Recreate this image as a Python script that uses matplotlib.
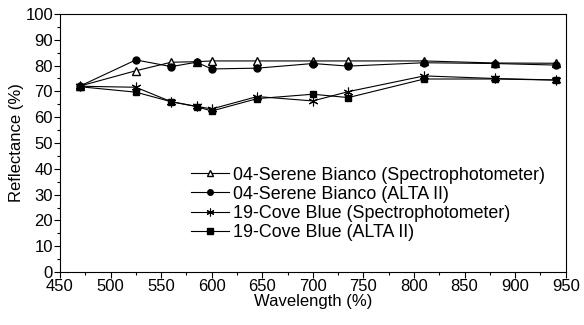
import numpy as np
import matplotlib.pyplot as plt
from matplotlib.ticker import MultipleLocator

plt.rcParams['font.family'] = ['Liberation Sans', 'DejaVu Sans']

# wavelengths (nm) of measurement points
wavelength = [470, 525, 560, 585, 600, 645, 700, 735, 810, 880, 940]

# reflectance values
serene_spectro = [72.1, 78.0, 81.3, 81.5, 81.8, 81.8, 81.8, 81.8, 81.8, 81.0, 80.9]
serene_alta = [72.1, 82.2, 79.6, 81.3, 78.7, 79.0, 80.8, 79.8, 81.1, 80.8, 80.2]
cove_spectro = [72.0, 71.6, 66.0, 64.2, 63.2, 68.0, 66.3, 69.9, 76.0, 75.0, 74.4]
cove_alta = [71.8, 69.7, 66.0, 64.1, 62.4, 67.2, 68.9, 67.6, 74.8, 74.8, 74.4]

labels = [
    "04-Serene Bianco (Spectrophotometer)",
    "04-Serene Bianco (ALTA II)",
    "19-Cove Blue (Spectrophotometer)",
    "19-Cove Blue (ALTA II)",
]

fig = plt.figure(figsize=(5.84, 3.25), dpi=100)
ax = fig.add_axes([0.1027, 0.163, 0.866, 0.794])

ax.plot(wavelength, serene_spectro, color="black", lw=0.8, marker="^",
        markerfacecolor="white", markeredgecolor="black", markersize=6, label=labels[0])
ax.plot(wavelength, serene_alta, color="black", lw=0.8, marker="o",
        markerfacecolor="black", markersize=5, label=labels[1])
ax.plot(wavelength, cove_spectro, color="black", lw=0.8, marker=(6, 2, 0),
        markersize=7, markeredgewidth=0.8, label=labels[2])
ax.plot(wavelength, cove_alta, color="black", lw=0.8, marker="s",
        markerfacecolor="black", markersize=5, label=labels[3])

ax.set_xlim(450, 950)
ax.set_ylim(0, 100)
ax.xaxis.set_major_locator(MultipleLocator(50))
ax.xaxis.set_minor_locator(MultipleLocator(25))
ax.yaxis.set_major_locator(MultipleLocator(10))
ax.yaxis.set_minor_locator(MultipleLocator(5))
ax.tick_params(which="major", direction="out", length=4, width=0.8, labelsize=12, pad=1)
ax.tick_params(which="minor", direction="out", length=2.5, width=0.8)
for s in ax.spines.values():
    s.set_linewidth(0.8)

ax.set_xlabel("Wavelength (%)", fontsize=12, labelpad=0)
ax.set_ylabel("Reflectance (%)", fontsize=12, labelpad=1)

leg = ax.legend(loc="lower left", bbox_to_anchor=(0.26, 0.12), frameon=False,
                fontsize=12.9, handlelength=2.1, handletextpad=0.2,
                labelspacing=0.12, borderaxespad=0, borderpad=0,
                markerscale=0.8)

fig.savefig("out.png", dpi=100)
